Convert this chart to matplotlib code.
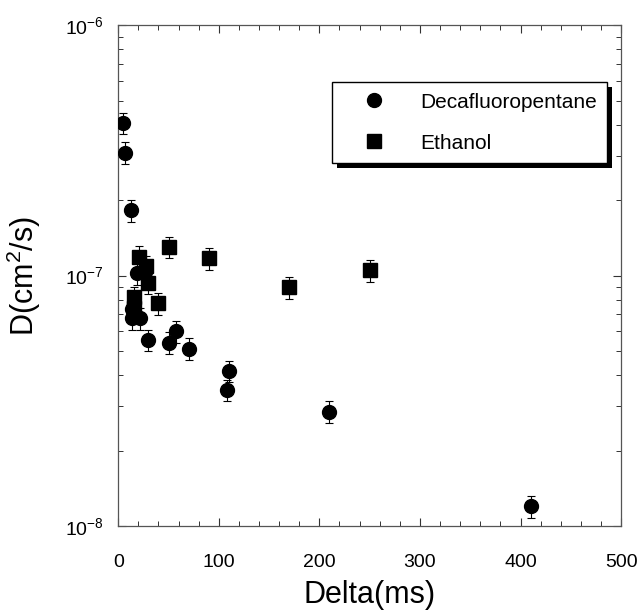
import matplotlib
matplotlib.use("Agg")
import matplotlib.pyplot as plt
import numpy as np
from matplotlib.ticker import LogLocator, MultipleLocator, NullFormatter, FixedLocator
from matplotlib.patches import Rectangle
from matplotlib.lines import Line2D

plt.rcParams['font.family'] = ['Liberation Sans', 'DejaVu Sans']
plt.rcParams['mathtext.default'] = 'regular'

# Decafluoropentane diffusion coefficients
decaf_delta = [5, 7, 13, 18.6, 27, 13.6, 21.9, 13.6, 30, 50, 57.7, 70.6, 110, 108, 210, 410]
decaf_D = [4.07e-7, 3.09e-7, 1.82e-7, 1.02e-7, 1.03e-7, 7.35e-8, 6.75e-8, 6.75e-8,
           5.53e-8, 5.4e-8, 6.0e-8, 5.1e-8, 4.16e-8, 3.49e-8, 2.86e-8, 1.2e-8]

# Ethanol diffusion coefficients
eth_delta = [20.8, 27.5, 30, 15.2, 15.2, 40, 50, 90, 170, 250]
eth_D = [1.19e-7, 1.09e-7, 9.35e-8, 8.2e-8, 7.4e-8, 7.74e-8, 1.30e-7, 1.17e-7, 8.97e-8, 1.05e-7]

rel_err = 0.1

fig = plt.figure(figsize=(6.39, 6.13), dpi=100)
ax = fig.add_axes([0.185, 0.142, 0.787, 0.817])

ax.errorbar(decaf_delta, decaf_D, yerr=np.array(decaf_D) * rel_err, fmt='o',
            color='black', ms=10, ecolor='black', elinewidth=0.8, capsize=3,
            capthick=0.8, zorder=3)
ax.errorbar(eth_delta, eth_D, yerr=np.array(eth_D) * rel_err, fmt='s',
            color='black', ms=10.5, ecolor='black', elinewidth=0.8, capsize=3,
            capthick=0.8, zorder=3)

ax.set_yscale('log')
ax.set_xlim(0, 500)
ax.set_ylim(1e-8, 1e-6)

ax.xaxis.set_major_locator(MultipleLocator(100))
ax.xaxis.set_minor_locator(MultipleLocator(20))
ax.yaxis.set_major_locator(FixedLocator([1e-8, 1e-7, 1e-6]))
ax.yaxis.set_minor_locator(LogLocator(base=10, subs=np.arange(2, 10)))
ax.yaxis.set_minor_formatter(NullFormatter())

ax.tick_params(which='both', direction='in', top=True, right=True,
               colors='#333333', labelcolor='black', labelsize=14)
ax.tick_params(which='major', length=6, width=0.8)
ax.tick_params(which='minor', length=3.5, width=0.7)
ax.tick_params(axis='y', which='major', pad=10)
ax.tick_params(axis='x', which='major', pad=20)
for s in ax.spines.values():
    s.set_color('#555555')
    s.set_linewidth(0.9)

ax.set_xlabel('Delta(ms)', fontsize=22, labelpad=7)
ax.set_ylabel('D(cm$^2$/s)', fontsize=22, labelpad=16)

handles = [Line2D([], [], ls='none', marker='o', ms=10, color='black'),
           Line2D([], [], ls='none', marker='s', ms=10, color='black')]
leg = ax.legend(handles, ['Decafluoropentane', 'Ethanol'],
                loc='upper right', bbox_to_anchor=(0.972, 0.886), fontsize=15,
                frameon=True, fancybox=False, shadow=False, numpoints=1,
                borderpad=0.5, labelspacing=1.05, handlelength=3.0,
                handletextpad=0.7, borderaxespad=0)
leg.get_frame().set_edgecolor('black')
leg.get_frame().set_linewidth(1.0)
leg.get_frame().set_alpha(1)
leg.set_zorder(5)

# drop shadow behind the legend box
fig.canvas.draw()
bb = leg.get_window_extent().transformed(ax.transAxes.inverted())
dx = 5 / (ax.bbox.width)
dy = 5 / (ax.bbox.height)
shadow = Rectangle((bb.x0 + dx, bb.y0 - dy), bb.width, bb.height,
                   transform=ax.transAxes, facecolor='black', edgecolor='none',
                   zorder=4)
ax.add_patch(shadow)

fig.savefig('out.png', dpi=100)
